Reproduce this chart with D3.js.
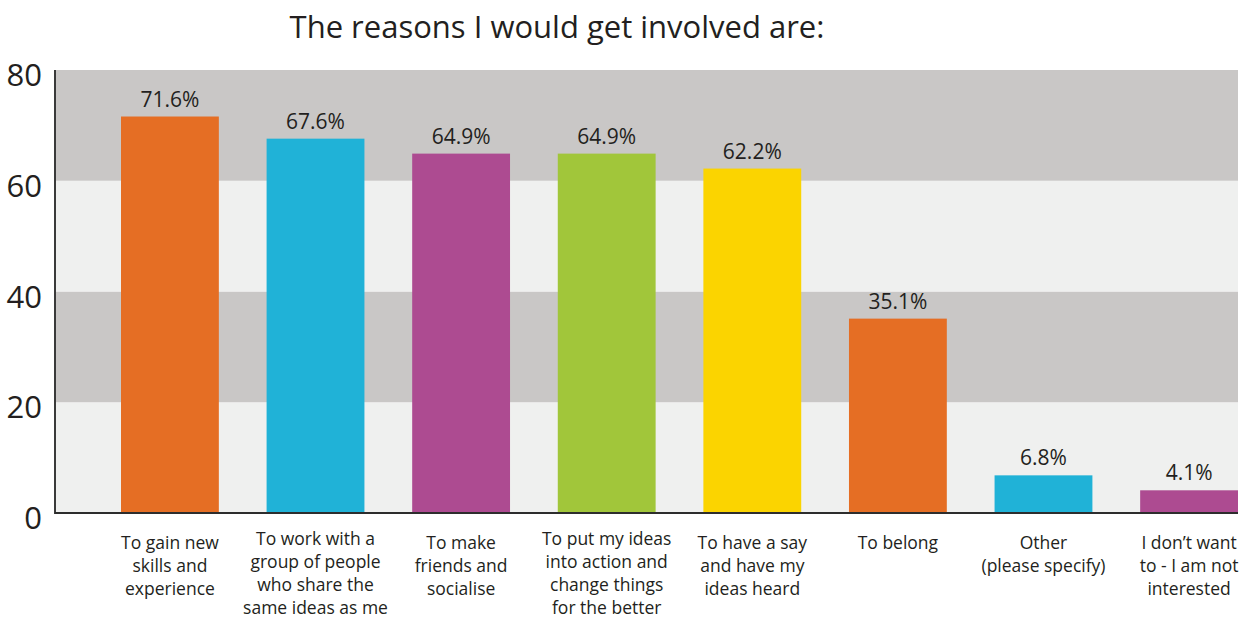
<!DOCTYPE html>
<html>
<head>
<meta charset="utf-8">
<script src="https://cdn.jsdelivr.net/npm/d3@7"></script>
<style>
  html, body { margin: 0; padding: 0; background: #ffffff; }
  svg { display: block; }
  text { font-family: "Open Sans", "DejaVu Sans", sans-serif; fill: #231f20; }
</style>
</head>
<body>
<svg id="chart" width="1252" height="621"></svg>
<script>
// Survey answers: share of respondents choosing each reason (%)
const categories = [
  "To gain new skills and experience",
  "To work with a group of people who share the same ideas as me",
  "To make friends and socialise",
  "To put my ideas into action and change things for the better",
  "To have a say and have my ideas heard",
  "To belong",
  "Other (please specify)",
  "I don\u2019t want to - I am not interested"
];
// Category labels broken into the lines they are printed on
const categoryLines = [
  ["To gain new", "skills and", "experience"],
  ["To work with a", "group of people", "who share the", "same ideas as me"],
  ["To make", "friends and", "socialise"],
  ["To put my ideas", "into action and", "change things", "for the better"],
  ["To have a say", "and have my", "ideas heard"],
  ["To belong"],
  ["Other", "(please specify)"],
  ["I don\u2019t want", "to - I am not", "interested"]
];
const values = [71.6, 67.6, 64.9, 64.9, 62.2, 35.1, 6.8, 4.1];
const barColors = ["#e56e24", "#20b2d7", "#ad4b91", "#a1c63a", "#fbd400", "#e56e24", "#20b2d7", "#ad4b91"];
const yTicks = [0, 20, 40, 60, 80];
const title = "The reasons I would get involved are:";

const svg = d3.select("#chart");

// Plot frame
const plotLeft = 55, plotRight = 1238, plotTop = 70, plotBottom = 513;

const y = d3.scaleLinear().domain([0, 80]).range([plotBottom, plotTop]);
const x = d3.scaleBand()
  .domain(categories)
  .range([121, plotRight])
  .paddingInner(0.328)
  .paddingOuter(0)
  .align(0);

// Alternating background bands between ticks
const bands = d3.pairs(yTicks);
svg.append("g")
  .selectAll("rect")
  .data(bands)
  .join("rect")
  .attr("x", plotLeft)
  .attr("width", plotRight - plotLeft)
  .attr("y", d => y(d[1]))
  .attr("height", d => y(d[0]) - y(d[1]))
  .attr("fill", (d, i) => i % 2 === 0 ? "#eff0ef" : "#c9c7c6");

// Bars
svg.append("g")
  .selectAll("rect")
  .data(values)
  .join("rect")
  .attr("x", (d, i) => x(categories[i]))
  .attr("width", x.bandwidth())
  .attr("y", d => y(d))
  .attr("height", d => y(0) - y(d))
  .attr("fill", (d, i) => barColors[i]);

// Value labels above bars
svg.append("g")
  .selectAll("text")
  .data(values)
  .join("text")
  .attr("x", (d, i) => x(categories[i]) + x.bandwidth() / 2)
  .attr("y", d => y(d) - 10)
  .attr("text-anchor", "middle")
  .style("font-size", "21px")
  .text(d => d.toFixed(1) + "%");

// Y axis
const yAxis = d3.axisLeft(y).tickValues(yTicks).tickSize(0).tickPadding(13);
const yg = svg.append("g").attr("transform", `translate(${plotLeft},0)`).call(yAxis);
yg.select(".domain").remove();
yg.selectAll("text")
  .attr("dy", "0.5em")
  .style("font-size", "31px")
  .style("font-family", "'Open Sans', sans-serif")
  .attr("fill", "#231f20");

// Axis lines
svg.append("line")
  .attr("x1", plotLeft).attr("x2", plotLeft)
  .attr("y1", plotTop).attr("y2", plotBottom + 1)
  .attr("stroke", "#3a3a3a").attr("stroke-width", 2);
svg.append("line")
  .attr("x1", plotLeft).attr("x2", plotRight)
  .attr("y1", plotBottom).attr("y2", plotBottom)
  .attr("stroke", "#2d2d2d").attr("stroke-width", 2);

// Category labels under the bars; four-line labels start a little higher
const lineHeight = 23;
const labelGroups = svg.append("g")
  .selectAll("text")
  .data(categoryLines)
  .join("text")
  .attr("text-anchor", "middle")
  .style("font-size", "17.5px")
  .attr("transform", (d, i) =>
    `translate(${x(categories[i]) + x.bandwidth() / 2},${d.length > 3 ? 545 : 549})`);
labelGroups.selectAll("tspan")
  .data(d => d)
  .join("tspan")
  .attr("x", 0)
  .attr("y", (d, i) => i * lineHeight)
  .text(d => d);

// Title
svg.append("text")
  .attr("x", 557)
  .attr("y", 38)
  .attr("text-anchor", "middle")
  .style("font-size", "31px")
  .text(title);
</script>
</body>
</html>
